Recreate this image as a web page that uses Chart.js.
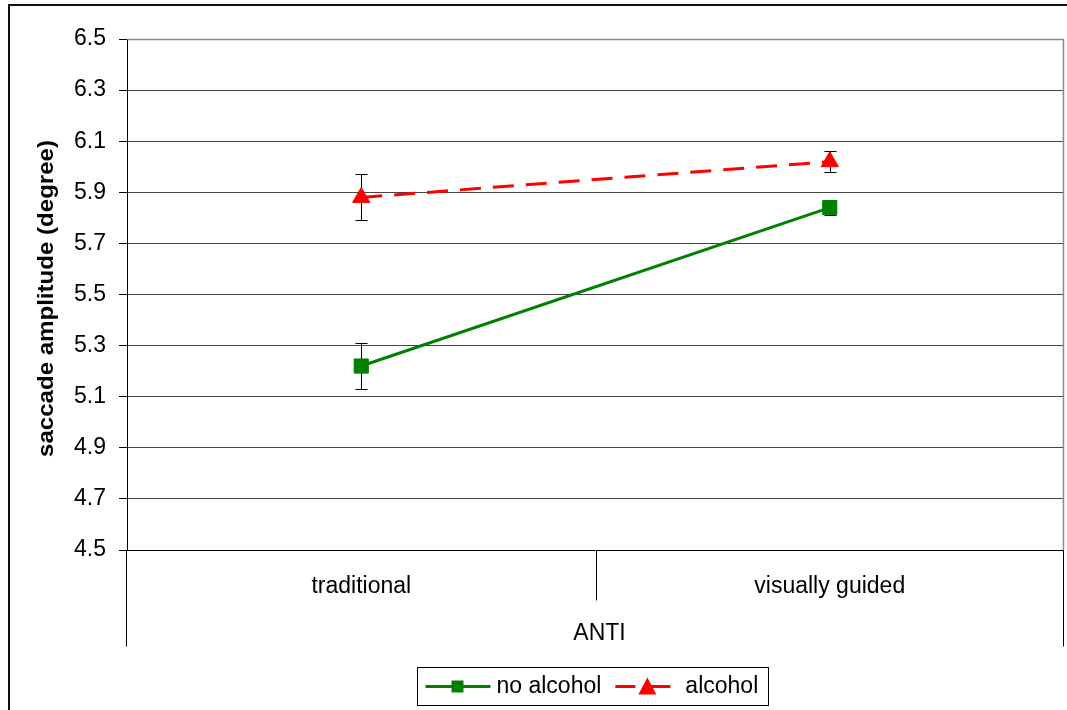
<!DOCTYPE html>
<html>
<head>
<meta charset="utf-8">
<script src="https://cdn.jsdelivr.net/npm/chart.js@4/dist/chart.umd.min.js"></script>
<style>
  html, body { margin: 0; padding: 0; background: #fff; overflow: hidden; }
  #wrap { width: 1067px; height: 710px; position: relative; overflow: hidden; }
</style>
</head>
<body>
<div id="wrap"><canvas id="c" width="1075" height="710"></canvas></div>
<script>
// ---- data ----
const categories = ['traditional', 'visually guided'];
const groupLabel = 'ANTI';
const seriesNames = ['no alcohol', 'alcohol'];
const noAlcohol = [5.22, 5.84];
const noAlcoholErr = [0.09, 0.03];
const alcohol = [5.88, 6.02];
const alcoholErr = [0.09, 0.04];
const yMin = 4.5;
const yMax = 6.5;
const yStep = 0.2;
const yTitle = 'saccade amplitude (degree)';

const FONT = '"Liberation Sans", Arial, sans-serif';
const errors = [noAlcoholErr, alcoholErr];

const decorPlugin = {
  id: 'decor',
  beforeDatasetsDraw(chart) {
    const ctx = chart.ctx;
    const a = chart.chartArea;
    ctx.save();
    // plot area border (gray top/right)
    ctx.strokeStyle = '#888';
    ctx.lineWidth = 1.5;
    ctx.beginPath();
    ctx.moveTo(a.left, a.top + 0.5);
    ctx.lineTo(a.right - 0.5, a.top + 0.5);
    ctx.lineTo(a.right - 0.5, a.bottom);
    ctx.stroke();
    // error bars
    const ys = chart.scales.y;
    ctx.strokeStyle = '#000';
    ctx.lineWidth = 1;
    chart.data.datasets.forEach((ds, i) => {
      const meta = chart.getDatasetMeta(i);
      meta.data.forEach((pt, j) => {
        const v = ds.data[j];
        const e = errors[i][j];
        const x = Math.round(pt.x) + 0.5;
        const yt = Math.round(ys.getPixelForValue(v + e)) + 0.5;
        const yb = Math.round(ys.getPixelForValue(v - e)) + 0.5;
        ctx.beginPath();
        ctx.moveTo(x, yt); ctx.lineTo(x, yb);
        ctx.moveTo(x - 6, yt); ctx.lineTo(x + 6, yt);
        ctx.moveTo(x - 6, yb); ctx.lineTo(x + 6, yb);
        ctx.stroke();
      });
    });
    ctx.restore();
  },
  afterDraw(chart) {
    const ctx = chart.ctx;
    const a = chart.chartArea;
    const xs = chart.scales.x;
    ctx.save();
    // outer chart border
    ctx.strokeStyle = '#111';
    ctx.lineWidth = 2;
    ctx.beginPath();
    ctx.moveTo(9, 720); ctx.lineTo(9, 5); ctx.lineTo(1080, 5);
    ctx.stroke();

    // category axis (multi-level)
    ctx.strokeStyle = '#000';
    ctx.lineWidth = 1;
    const b = Math.round(a.bottom) + 0.5;
    ctx.beginPath();
    ctx.moveTo(a.left, b); ctx.lineTo(a.right, b);
    const l = Math.round(a.left) - 0.5;
    const r = Math.round(a.right) - 0.5;
    ctx.moveTo(l, b); ctx.lineTo(l, b + 96);
    ctx.moveTo(r, b); ctx.lineTo(r, b + 96);
    for (let i = 0; i < categories.length - 1; i++) {
      const xm = Math.round((xs.getPixelForValue(i) + xs.getPixelForValue(i + 1)) / 2) + 0.5;
      ctx.moveTo(xm, b); ctx.lineTo(xm, b + 50);
    }
    ctx.stroke();

    ctx.fillStyle = '#000';
    ctx.font = '23px ' + FONT;
    ctx.textAlign = 'center';
    ctx.textBaseline = 'middle';
    categories.forEach((c, i) => {
      ctx.fillText(c, xs.getPixelForValue(i), a.bottom + 37);
    });
    ctx.fillText(groupLabel, (a.left + a.right) / 2 + 4, a.bottom + 84);

    // y title (rotated, bold)
    ctx.save();
    ctx.translate(47, (a.top + a.bottom) / 2 + 4);
    ctx.rotate(-Math.PI / 2);
    ctx.font = 'bold 22px ' + FONT;
    const tw = ctx.measureText(yTitle).width;
    ctx.scale(317 / tw, 1);
    ctx.fillText(yTitle, 0, 0);
    ctx.restore();

    // legend
    ctx.font = '23px ' + FONT;
    const w1 = ctx.measureText(seriesNames[0]).width;
    const w2 = ctx.measureText(seriesNames[1]).width;
    const total = 8 + 65 + 6 + w1 + 14 + 55 + 15 + w2 + 10;
    const lx = Math.round((a.left + a.right) / 2 - total / 2) - 2.5;
    const ly = 667.5, lh = 38;
    ctx.strokeStyle = '#000';
    ctx.lineWidth = 1;
    ctx.strokeRect(lx, ly, Math.round(total), lh);
    const cy = ly + lh / 2;
    const ds0 = chart.data.datasets[0], ds1 = chart.data.datasets[1];
    // item 1
    let x = lx + 8;
    ctx.strokeStyle = ds0.borderColor;
    ctx.lineWidth = 3;
    ctx.beginPath(); ctx.moveTo(x, cy); ctx.lineTo(x + 65, cy); ctx.stroke();
    ctx.fillStyle = ds0.backgroundColor;
    ctx.fillRect(x + 32 - 6, cy - 6, 12, 12);
    x += 65 + 6;
    ctx.fillStyle = '#000';
    ctx.textAlign = 'left';
    ctx.fillText(seriesNames[0], x, cy);
    x += w1 + 14;
    // item 2
    ctx.strokeStyle = ds1.borderColor;
    ctx.beginPath(); ctx.moveTo(x, cy); ctx.lineTo(x + 20, cy); ctx.moveTo(x + 35, cy); ctx.lineTo(x + 55, cy); ctx.stroke();
    ctx.fillStyle = ds1.backgroundColor;
    const tx = x + 32;
    ctx.beginPath();
    ctx.moveTo(tx, cy - 9); ctx.lineTo(tx + 9, cy + 8); ctx.lineTo(tx - 9, cy + 8); ctx.closePath();
    ctx.fill();
    x += 55 + 15;
    ctx.fillStyle = '#000';
    ctx.fillText(seriesNames[1], x, cy);
    ctx.restore();
  }
};

new Chart(document.getElementById('c'), {
  type: 'line',
  data: {
    labels: categories,
    datasets: [
      {
        label: seriesNames[0],
        data: noAlcohol,
        borderColor: '#008000',
        backgroundColor: '#008000',
        borderWidth: 3,
        pointStyle: 'rect',
        pointRadius: 10,
        pointHoverRadius: 10,
        pointBorderWidth: 1,
        pointBackgroundColor: '#008000',
        pointBorderColor: '#008000',
        tension: 0,
        clip: false
      },
      {
        label: seriesNames[1],
        data: alcohol,
        borderColor: '#ff0000',
        backgroundColor: '#ff0000',
        borderWidth: 3,
        borderDash: [21, 12],
        pointStyle: 'triangle',
        pointRadius: 10,
        pointHoverRadius: 10,
        pointBorderWidth: 1,
        pointBackgroundColor: '#ff0000',
        pointBorderColor: '#ff0000',
        tension: 0,
        clip: false
      }
    ]
  },
  options: {
    responsive: false,
    animation: false,
    devicePixelRatio: 1,
    layout: { padding: { left: 0, top: 39, right: 0, bottom: 160 } },
    plugins: { legend: { display: false }, tooltip: { enabled: false } },
    scales: {
      x: {
        type: 'category',
        offset: true,
        grid: { display: false },
        border: { display: false },
        ticks: { display: false },
        afterFit(s) { s.height = 0; }
      },
      y: {
        min: yMin,
        max: yMax,
        afterFit(s) { s.width = 127; },
        ticks: {
          stepSize: yStep,
          padding: 13,
          color: '#000',
          font: { family: FONT, size: 23 },
          callback: (v) => Number(v).toFixed(1)
        },
        grid: {
          color: (c) => (c.tick && Math.abs(c.tick.value - yMax) < 1e-6) ? '#888' : '#444',
          lineWidth: 1,
          tickLength: 8,
          tickColor: '#000'
        },
        border: { display: true, color: '#000', width: 1 }
      }
    }
  },
  plugins: [decorPlugin]
});
</script>
</body>
</html>
